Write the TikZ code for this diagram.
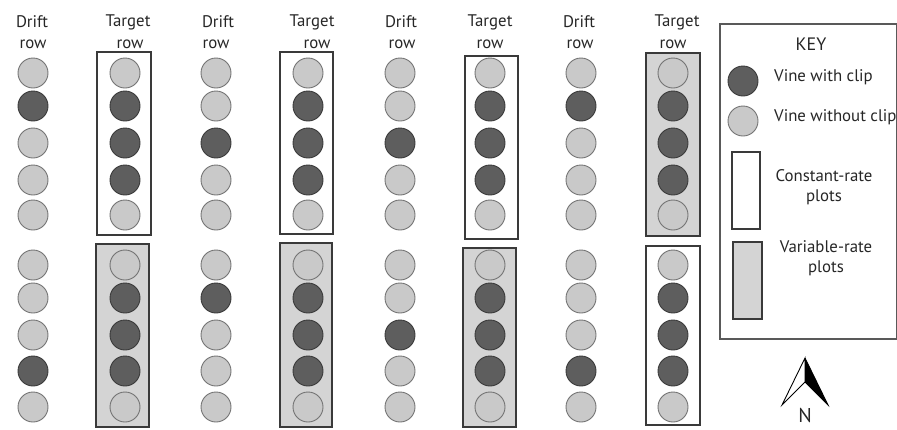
\documentclass[tikz,border=0pt]{standalone}
\usepackage{fontspec}
\setmainfont{PT Sans}
\definecolor{darkv}{HTML}{5E5E5E}
\definecolor{lightv}{HTML}{C9C9C9}
\definecolor{boxgray}{HTML}{D4D4D4}
\definecolor{edgev}{HTML}{3A3A3A}
\begin{document}
\begin{tikzpicture}[x=1pt,y=-1pt,
  lbl/.style={inner sep=0pt,font=\fontsize{16.8}{19}\selectfont,text=black!85},
  vinedark/.style={circle,draw=edgev,line width=0.9pt,fill=darkv,minimum size=30pt,inner sep=0pt},
  vinelight/.style={circle,draw=gray!90!black,line width=0.9pt,fill=lightv,minimum size=30pt,inner sep=0pt},
  constbox/.style={draw=edgev,line width=1.4pt,fill=white},
  varbox/.style={draw=edgev,line width=1.4pt,fill=boxgray},
  keyframe/.style={draw=gray!70!black,line width=1.3pt}
]
\useasboundingbox (0,0) rectangle (897,429);

% headers
\foreach \x/\y/\t/\n in {32/22/Drift/h1, 218/22/Drift/h3, 401/22/Drift/h5, 579/22/Drift/h7,
                         128/22/Target/h2, 312/22/Target/h4, 490/22/Target/h6, 677/22/Target/h8,
                         33/44/row/r1, 216/44/row/r3, 402/44/row/r5, 580/44/row/r7,
                         130/44/row/r2, 317/44/row/r4, 490/44/row/r6, 673/44/row/r8}
  \node[lbl] (\n) at (\x,\y) {\t};

% plot boxes (top)
\draw[constbox] (97,52) rectangle (151,235);
\draw[constbox] (280,52) rectangle (333,234);
\draw[constbox] (465,56) rectangle (518,239);
\draw[varbox]   (646,53) rectangle (700,236);
% plot boxes (bottom)
\draw[varbox]   (96,244) rectangle (149,427);
\draw[varbox]   (280,243) rectangle (332,427);
\draw[varbox]   (463,248) rectangle (516,427);
\draw[constbox] (646,246) rectangle (700,425);

% vines: column x, pattern top (5), pattern bottom (5); 1 = with clip
\foreach \c/\x/\pt/\pb in {1/33/{0,1,0,0,0}/{0,0,0,1,0},
                           2/125/{0,1,1,1,0}/{0,1,1,1,0},
                           3/216/{0,0,1,0,0}/{0,1,0,0,0},
                           4/308/{0,1,1,1,0}/{0,1,1,1,0},
                           5/400/{0,0,1,0,0}/{0,0,1,0,0},
                           6/490/{0,1,1,1,0}/{0,1,1,1,0},
                           7/581/{0,1,0,0,0}/{0,0,0,1,0},
                           8/673/{0,1,1,1,0}/{0,1,1,1,0}}{
  \foreach \v [count=\i] in \pt {
    \pgfmathsetmacro{\yy}{{73,106,143,180,215}[\i-1]}
    \ifnum\v=1 \node[vinedark] (t\c-\i) at (\x,\yy) {};
    \else \node[vinelight] (t\c-\i) at (\x,\yy) {}; \fi
  }
  \foreach \v [count=\i] in \pb {
    \pgfmathsetmacro{\yy}{{265,298,335,371,407}[\i-1]}
    \ifnum\v=1 \node[vinedark] (b\c-\i) at (\x,\yy) {};
    \else \node[vinelight] (b\c-\i) at (\x,\yy) {}; \fi
  }
}

% key
\draw[keyframe] (720,24) rectangle (896.5,339);
\node[lbl,font=\fontsize{18}{20}\selectfont] (key) at (811,44) {KEY};
\node[vinedark] (kd) at (743,81) {};
\node[vinelight] (kl) at (743,121) {};
\node[lbl,anchor=west] (kdt) at (774,77) {Vine with clip};
\node[lbl,anchor=west] (klt) at (774,117) {Vine without clip};
\draw[constbox,line width=1.1pt] (732,152) rectangle (760,229);
\node[lbl,align=center,font=\fontsize{16.8}{20}\selectfont] (kct) at (824,187) {Constant-rate\\plots};
\draw[varbox,line width=1.1pt] (733,242) rectangle (762,319);
\node[lbl,align=center,font=\fontsize{16.8}{20}\selectfont] (kvt) at (826,258) {Variable-rate\\plots};

% north arrow
\coordinate (apex) at (805,358);
\coordinate (ltip) at (782,405);
\coordinate (rtip) at (828,405);
\coordinate (notch) at (805,382);
\draw[line width=0.9pt,fill=white,line join=miter] (apex) -- (ltip) -- (notch) -- cycle;
\fill[black] (apex) -- (rtip) -- (notch) -- cycle;
\draw[line width=0.9pt] (apex) -- (rtip) -- (notch);
\node[lbl,font=\fontsize{20}{22}\selectfont] (north) at (805,415) {N};
\end{tikzpicture}
\end{document}
